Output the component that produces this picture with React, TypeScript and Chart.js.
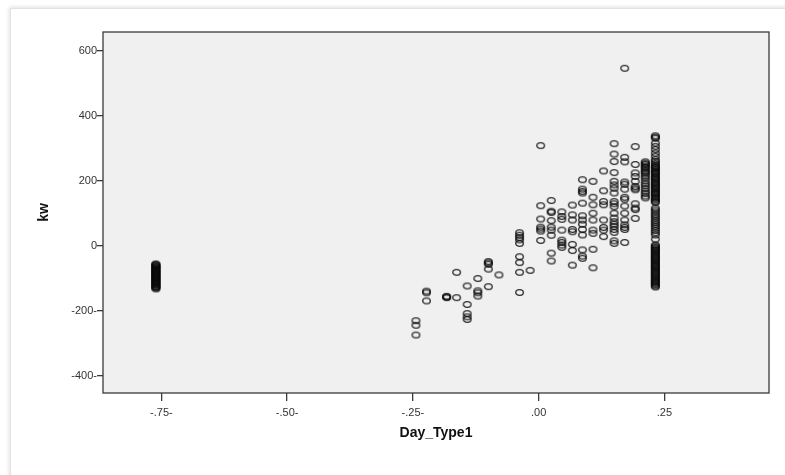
import React, { useEffect, useRef } from "react";
import { Chart, registerables } from "chart.js";

Chart.register(...registerables);

// Axis ticks (SPSS-style labels)
const xTickValues = [-0.75, -0.5, -0.25, 0, 0.25];
const xTickLabels = ["-.75-", "-.50-", "-.25-", ".00", ".25"];
const yTickValues = [-400, -200, 0, 200, 400, 600];
const yTickLabels = ["-400-", "-200-", "0", "200", "400", "600"];

const xTitle = "Day_Type1";
const yTitle = "kw";

// Day_Type1 value of each column of points
const columnDayType1 = [
  -0.761, -0.244, -0.223, -0.183, -0.163, -0.142, -0.121, -0.1, -0.079, -0.038,
  -0.017, 0.004, 0.025, 0.046, 0.067, 0.087, 0.108, 0.129, 0.15, 0.171, 0.192,
  0.212, 0.232,
];

// kw values of each column (same order as columnDayType1)
const kwMinus761 = [
  -56, -58, -61, -63, -65, -67, -70, -72, -74, -76, -79, -81, -83, -85, -88, -90,
  -92, -94, -97, -99, -101, -103, -106, -108, -110, -112, -115, -117, -119, -121,
  -124, -126, -128, -130, -133,
];
const kwMinus244 = [-231, -245, -275];
const kwMinus223 = [-140, -145, -170];
const kwMinus183 = [-156, -158, -160];
const kwMinus163 = [-82, -160];
const kwMinus142 = [-124, -181, -209, -219, -227];
const kwMinus121 = [-101, -139, -145, -155];
const kwMinus100 = [-49, -53, -57, -72, -126];
const kwMinus079 = [-90];
const kwMinus038 = [40, 32, 25, 18, 7, -34, -52, -82, -144];
const kwMinus017 = [-76];
const kwPlus004 = [308, 123, 82, 57, 51, 45, 16];
const kwPlus025 = [139, 106, 102, 77, 57, 48, 32, -23, -47];
const kwPlus046 = [104, 90, 81, 48, 17, 10, 2, -5];
const kwPlus067 = [125, 95, 79, 50, 43, 4, -15, -60];
const kwPlus087 = [203, 174, 167, 162, 131, 92, 79, 66, 50, 33, -13, -32, -39];
const kwPlus108 = [198, 149, 126, 100, 79, 48, 38, -11, -68];
const kwPlus129 = [230, 169, 136, 126, 79, 56, 48, 28];
const kwPlus150 = [
  314, 282, 259, 225, 198, 187, 177, 162, 136, 129, 120, 100, 85, 74, 66, 59, 50,
  41, 15, 7,
];
const kwPlus171 = [546, 272, 258, 196, 189, 174, 149, 143, 122, 100, 79, 64, 56, 50, 10];
const kwPlus192 = [305, 250, 224, 213, 198, 182, 177, 172, 129, 116, 111, 84];
const kwPlus212 = [
  258, 254, 250, 245, 241, 236, 230, 226, 221, 214, 208, 199, 191, 184, 176, 168,
  161, 153, 147,
];
const kwPlus232 = [
  338, 334, 331, 316, 306, 296, 285, 275, 265, 259, 253, 248, 244, 241, 237, 233,
  229, 226, 222, 218, 214, 210, 206, 203, 199, 195, 191, 187, 184, 180, 176, 172,
  168, 164, 161, 157, 153, 149, 145, 141, 137, 133, 116, 110, 104, 97, 91, 85,
  78, 72, 66, 60, 54, 47, 40, 33, 20, 2, -1, -5, -8, -12, -15, -19, -22, -26,
  -29, -33, -36, -40, -43, -47, -50, -54, -57, -61, -64, -68, -71, -75, -78, -82,
  -85, -89, -92, -96, -99, -103, -106, -110, -113, -117, -120, -124, -127,
];

const columnKw = [
  kwMinus761, kwMinus244, kwMinus223, kwMinus183, kwMinus163, kwMinus142,
  kwMinus121, kwMinus100, kwMinus079, kwMinus038, kwMinus017, kwPlus004,
  kwPlus025, kwPlus046, kwPlus067, kwPlus087, kwPlus108, kwPlus129, kwPlus150,
  kwPlus171, kwPlus192, kwPlus212, kwPlus232,
];

const framePlugin = {
  id: "spssFrame",
  beforeDraw(chart: any) {
    const { ctx, chartArea: a } = chart;
    ctx.save();
    ctx.fillStyle = "#f0f0f0";
    ctx.fillRect(a.left, a.top, a.right - a.left, a.bottom - a.top);
    ctx.restore();
  },
  afterDatasetsDraw(chart: any) {
    const { ctx, chartArea: a } = chart;
    ctx.save();
    ctx.strokeStyle = "#3a3a3a";
    ctx.lineWidth = 1.3;
    ctx.strokeRect(a.left, a.top, a.right - a.left, a.bottom - a.top);
    ctx.restore();
  },
};

function makeMarker(): HTMLCanvasElement {
  const c = document.createElement("canvas");
  c.width = 11;
  c.height = 9;
  const g = c.getContext("2d")!;
  g.strokeStyle = "rgba(10,10,10,0.85)";
  g.lineWidth = 1.35;
  g.beginPath();
  g.ellipse(5.5, 4.5, 3.8, 2.9, 0, 0, Math.PI * 2);
  g.stroke();
  return c;
}

export default function App() {
  const canvasRef = useRef<HTMLCanvasElement | null>(null);

  useEffect(() => {
    if (!canvasRef.current) return;
    const points = columnDayType1.flatMap((x, i) =>
      columnKw[i].map((y) => ({ x, y }))
    );
    const marker = makeMarker();
    const tickFont = { family: "'Liberation Sans', Arial, sans-serif", size: 11 };
    const titleFont = {
      family: "'Liberation Sans', Arial, sans-serif",
      size: 14,
      weight: "bold" as const,
      lineHeight: 1.2,
    };

    const chart = new Chart(canvasRef.current, {
      type: "scatter",
      data: {
        datasets: [
          {
            data: points,
            pointStyle: marker as any,
            pointRadius: 4,
            showLine: false,
          },
        ],
      },
      plugins: [framePlugin],
      options: {
        responsive: false,
        animation: false,
        events: [],
        layout: { padding: { top: 32, right: 16, left: 0, bottom: 0 } },
        plugins: { legend: { display: false }, tooltip: { enabled: false } },
        scales: {
          x: {
            type: "linear",
            min: -0.866,
            max: 0.458,
            afterBuildTicks: (s: any) => {
              s.ticks = xTickValues.map((v) => ({ value: v }));
            },
            afterFit: (s: any) => {
              s.height = 82;
            },
            grid: {
              drawOnChartArea: false,
              drawTicks: true,
              tickLength: 8,
              color: "#3a3a3a",
              lineWidth: 1.3,
            },
            border: { display: false },
            ticks: {
              autoSkip: false,
              maxRotation: 0,
              padding: 5,
              color: "#333",
              font: tickFont,
              callback: (v: any) => xTickLabels[xTickValues.indexOf(Number(v))] ?? "",
            },
            title: {
              display: true,
              text: xTitle,
              color: "#111",
              font: titleFont,
              padding: { top: 0, bottom: 33 },
            },
          },
          y: {
            type: "linear",
            min: -453.4,
            max: 657.7,
            afterBuildTicks: (s: any) => {
              s.ticks = yTickValues.map((v) => ({ value: v }));
            },
            afterFit: (s: any) => {
              s.width = 103;
            },
            grid: {
              drawOnChartArea: false,
              drawTicks: true,
              tickLength: 6,
              color: "#3a3a3a",
              lineWidth: 1.3,
            },
            border: { display: false },
            ticks: {
              autoSkip: false,
              padding: 0,
              color: "#333",
              font: tickFont,
              callback: (v: any) => yTickLabels[yTickValues.indexOf(Number(v))] ?? "",
            },
            title: {
              display: true,
              text: yTitle,
              color: "#111",
              font: titleFont,
              padding: { top: 36, bottom: 0 },
            },
          },
        },
      },
    });
    return () => chart.destroy();
  }, []);

  return (
    <div
      style={{
        position: "fixed",
        left: 0,
        top: 0,
        width: 785,
        height: 475,
        background: "#fff",
        overflow: "hidden",
      }}
    >
      <div
        style={{
          position: "absolute",
          left: 10,
          top: 8,
          width: 800,
          height: 500,
          background: "#fff",
          borderLeft: "1px solid #e2e2e2",
          borderTop: "1px solid #e2e2e2",
          boxShadow: "-1px -1px 4px rgba(0,0,0,0.12)",
        }}
      />
      <canvas
        ref={canvasRef}
        width={785}
        height={475}
        style={{ position: "absolute", left: 0, top: 0, width: 785, height: 475 }}
      />
    </div>
  );
}
